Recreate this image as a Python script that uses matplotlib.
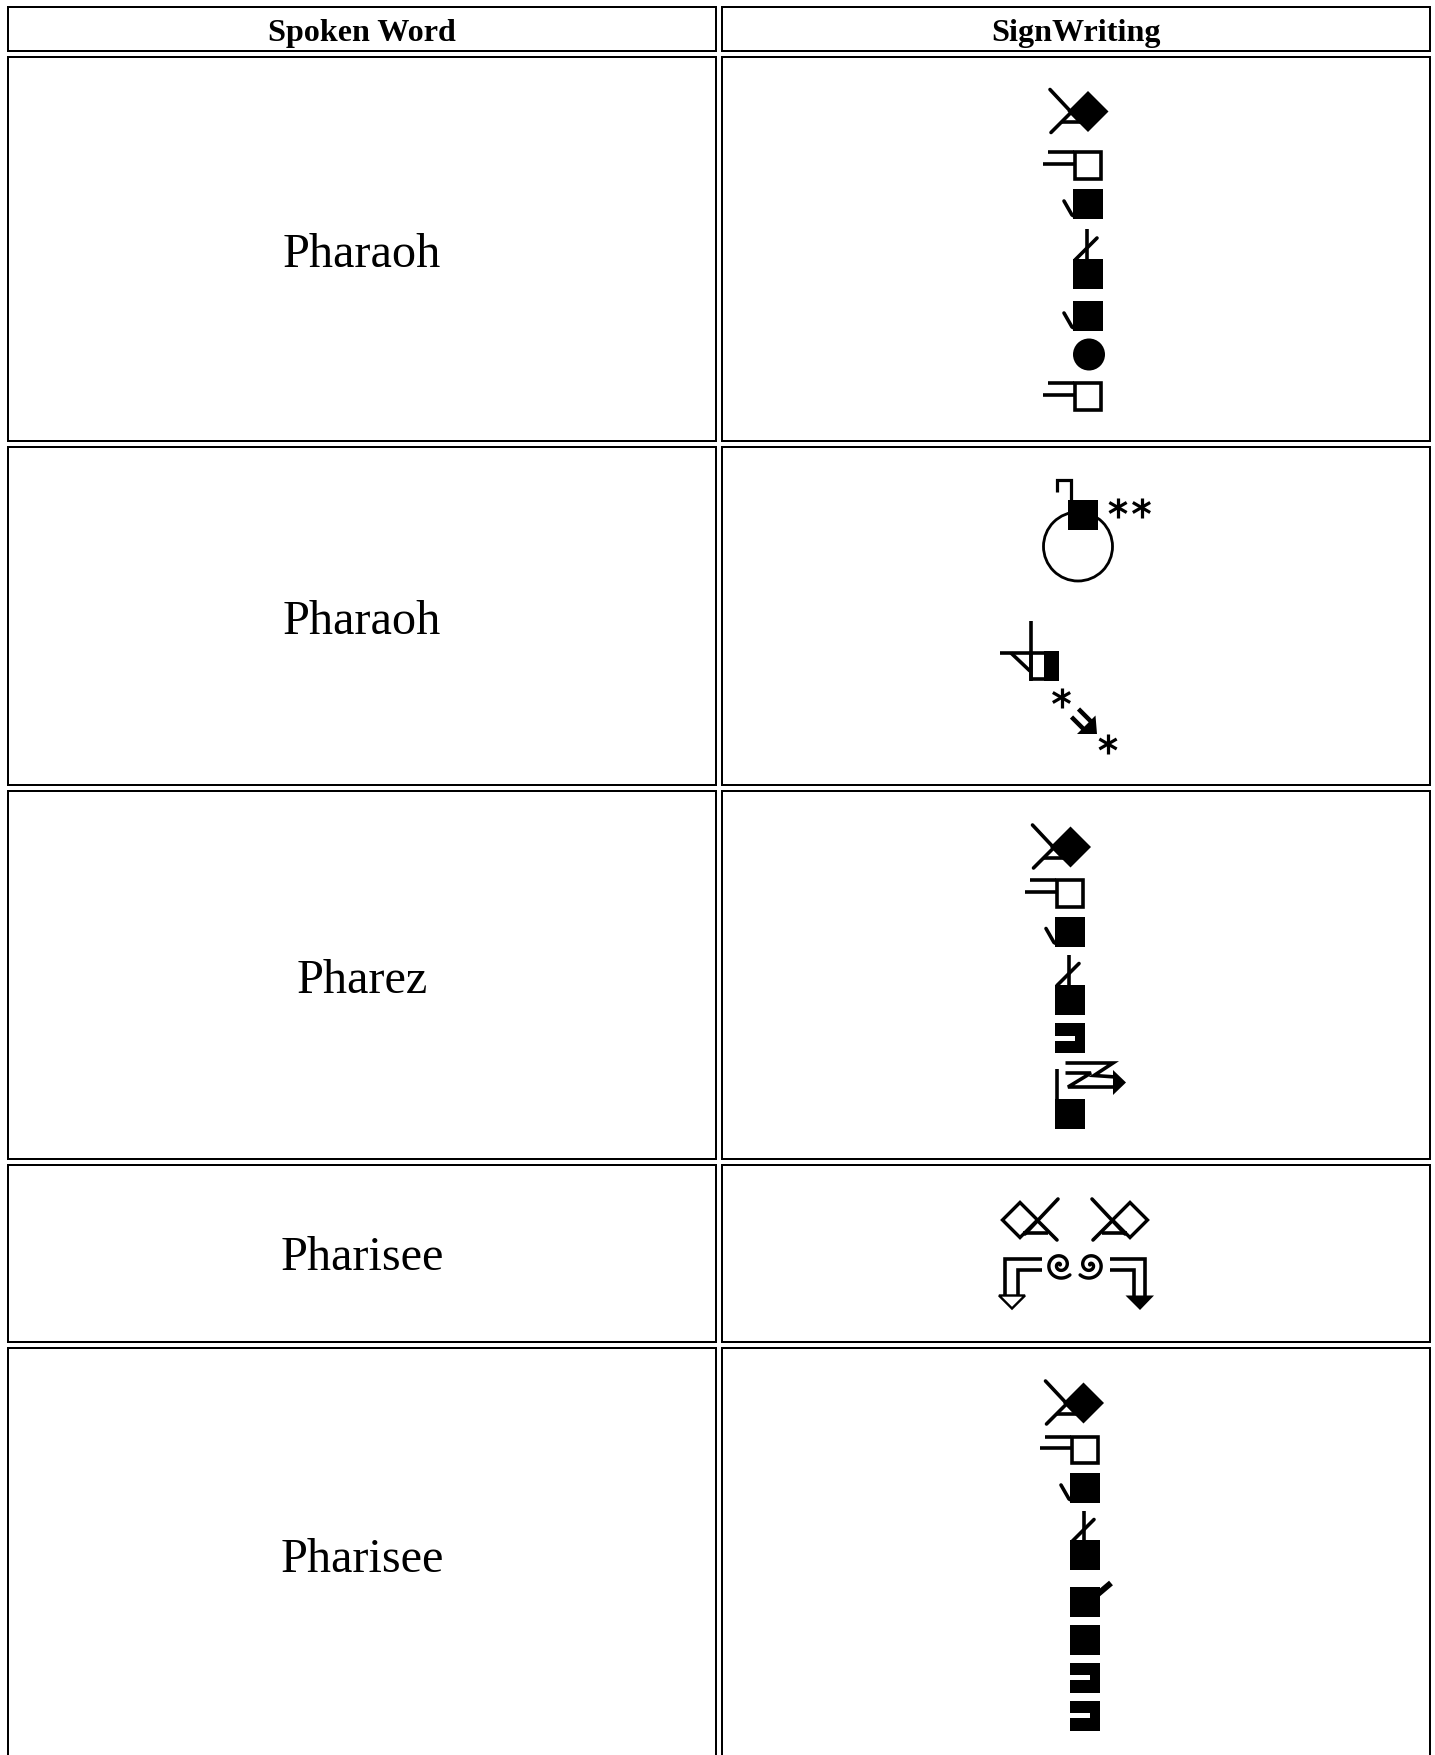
import numpy as np
import matplotlib
matplotlib.use("Agg")
import matplotlib.pyplot as plt
from matplotlib.patches import Rectangle, Polygon, Circle

W, H = 1435, 1756
headers = ["Spoken Word", "SignWriting"]
words = ["Pharaoh", "Pharaoh", "Pharez", "Pharisee", "Pharisee"]
row_edges = [(8, 52), (58, 442), (448, 786), (792, 1160), (1166, 1343), (1349, 1767)]
col_edges = [(8, 716), (722, 1430)]
text_base = [267, 634, 993, 1270, 1572]

fig = plt.figure(figsize=(W / 100, H / 100), dpi=100)
ax = fig.add_axes([0, 0, 1, 1])
ax.set_xlim(0, W)
ax.set_ylim(H, 0)
ax.axis("off")
SERIF = ["Liberation Serif", "DejaVu Serif"]
K = "black"
px = 0.72


def line(pts, w=3.6, z=3, c=K, cap="butt", join="miter"):
    xs, ys = zip(*pts)
    ax.plot(xs, ys, color=c, lw=w * px, solid_capstyle=cap, solid_joinstyle=join, zorder=z)


def fill(pts, z=3, fc=K, ec="none", w=0):
    ax.add_patch(Polygon(pts, closed=True, fc=fc, ec=ec, lw=w * px, zorder=z, joinstyle="miter"))


def square(x, y, filled=True, s=30):
    if filled:
        ax.add_patch(Rectangle((x, y), s, s, fc=K, ec="none", zorder=3))
    else:
        ax.add_patch(Rectangle((x + 1.8, y + 1.8), s - 3.6, s - 3.6, fc="white", ec=K, lw=3.6 * px, zorder=3))


def diamond_sign(cx, cy):
    d = 20.5
    fill([(cx - d, cy), (cx, cy - d), (cx + d, cy), (cx, cy + d)], z=4)
    line([(cx - 38, cy - 22), (cx - 8, cy + 10)], cap="round")
    line([(cx - 37, cy + 21), (cx - 17, cy + 1)], cap="round")
    line([(cx - 27, cy + 10.5), (cx - 2, cy + 10.5)])


def open_hand(x, y):
    square(x, y, False)
    line([(x - 25, y + 1.8), (x + 1, y + 1.8)])
    line([(x - 30, y + 13), (x + 1, y + 13)])


def tail_sq(x, y):
    square(x, y)
    line([(x - 9, y + 12), (x - 1, y + 26), (x + 3, y + 28)], join="round", cap="round")


def up_sq(x, y):
    square(x, y)
    line([(x + 13.5, y - 30), (x + 13.5, y + 1)])
    line([(x + 24, y - 21), (x + 2, y + 1)], cap="round")


def notch_sq(x, y):
    square(x, y)
    ax.add_patch(Rectangle((x - 0.5, y + 12.5), 20, 5, fc="white", ec="none", zorder=4))


def star(cx, cy, r=10):
    for a in (90, 30, 150):
        t = np.deg2rad(a)
        dx, dy = r * np.cos(t), r * np.sin(t)
        line([(cx - dx, cy - dy), (cx + dx, cy + dy)], w=3.2)


def open_diamond(cx, cy, mirror=1):
    d = 17.5
    m = mirror
    fill([(cx - d, cy), (cx, cy - d), (cx + d, cy), (cx, cy + d)], fc="white", ec=K, w=3.4, z=4)
    line([(cx + m * 38, cy - 21), (cx + m * 5, cy + 14)], z=5, cap="round")
    line([(cx + m * 37, cy + 20), (cx + m * 17, cy)], z=5, cap="round")
    line([(cx + m * 3, cy + 13), (cx + m * 28, cy + 13)], z=5)


def spiral(cx, cy, mirror=1, r=14):
    t = np.linspace(0.1, 3.6 * np.pi, 160)
    rr = r * t / t.max()
    ang = t + np.pi * 1.15
    line(list(zip(cx + mirror * rr * np.cos(ang), cy + rr * np.sin(ang))), w=3.4, join="round", cap="round")


# ----- table -----
for (y0, y1) in row_edges:
    for (x0, x1) in col_edges:
        ax.add_patch(Rectangle((x0, y0), x1 - x0, y1 - y0, fc="white", ec=K, lw=2 * px, zorder=1))

for cx, h in zip([362, 1076], headers):
    ax.text(cx, 41, h, family=SERIF, weight="bold", size=32.1 * px, ha="center", va="baseline", color=K)
for w, b in zip(words, text_base):
    ax.text(362, b, w, family=SERIF, size=48.2 * px, ha="center", va="baseline", color=K)

# ----- row 1 -----
x0 = 1073
diamond_sign(x0 + 15, 112.5)
open_hand(x0, 151.5)
tail_sq(x0, 190)
up_sq(x0, 260)
tail_sq(x0, 302)
ax.add_patch(Circle((1089, 355.5), 16, fc=K, ec="none", zorder=3))
open_hand(x0, 382.5)

# ----- row 2 -----
ax.add_patch(Circle((1078, 547.5), 34.5, fc="none", ec=K, lw=2.8 * px, zorder=2))
square(1068, 501)
line([(1070.5, 502), (1070.5, 481), (1057, 481), (1057, 493)], w=3.2)
star(1118, 508.5)
star(1141.5, 508.5)
x, y = 1029, 652
ax.add_patch(Rectangle((x + 1.8, y + 1.8), 26.4, 26.4, fc="white", ec=K, lw=3.6 * px, zorder=3))
ax.add_patch(Rectangle((x + 14.5, y), 15, 30, fc=K, ec="none", zorder=3))
line([(1000, y + 1.8), (x + 2, y + 1.8)])
line([(x + 1.8, 621.5), (x + 1.8, y + 30)])
line([(1011, 654), (x + 1, 672)])
star(1061.5, 698.5)
star(1108, 745)
line([(1071.5, 718), (1085, 731.5)], w=4.5)
line([(1078.5, 710), (1092, 723.5)], w=4.5)
fill([(1097, 735), (1095.5, 716.5), (1077, 735)])

# ----- row 3 -----
x0 = 1055
diamond_sign(x0 + 15.5, 848)
open_hand(x0, 879.5)
tail_sq(x0, 917.5)
up_sq(x0, 985.5)
notch_sq(x0, 1024)
square(x0, 1100)
line([(x0 + 1.8, 1070), (x0 + 1.8, 1101)])
line([(1065.5, 1064), (1113, 1064), (1094, 1076.5), (1116, 1078)])
line([(1065.5, 1074), (1091, 1074), (1068, 1088), (1115, 1088)])
fill([(1113, 1071), (1126, 1083.5), (1113, 1096)])

# ----- row 4 -----
open_diamond(1020, 1221, 1)
open_diamond(1130, 1221, -1)
line([(1041.5, 1259.5), (1005, 1259.5), (1005, 1297)])
line([(1041.5, 1271), (1017.5, 1271), (1017.5, 1297)])
fill([(999, 1296.5), (1025, 1296.5), (1012, 1309.5)], fc="white", ec=K, w=2.4)
line([(1110, 1259.5), (1145, 1259.5), (1145, 1297)])
line([(1110, 1271), (1134, 1271), (1134, 1297)])
fill([(1125.5, 1296.5), (1154, 1296.5), (1140, 1311)])
spiral(1060, 1266, -1)
spiral(1090, 1266, 1)

# ----- row 5 -----
x0 = 1070
diamond_sign(x0 + 13.5, 1404)
open_hand(x0, 1436)
tail_sq(x0, 1474)
up_sq(x0, 1541.5)
square(x0, 1588)
line([(x0 + 28, 1595), (x0 + 41, 1584)], w=6)
square(x0, 1626)
notch_sq(x0, 1664)
notch_sq(x0, 1702)

fig.savefig("out.png", dpi=100, facecolor="white")
